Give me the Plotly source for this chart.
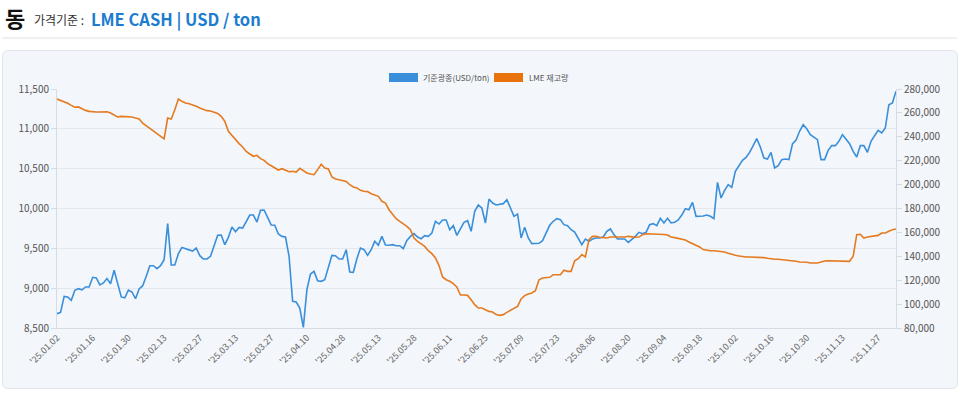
import pandas as pd
import plotly.graph_objects as go

# ---------------- data ----------------
start_date = "2025-01-02"
end_date = "2025-12-04"
uk_holidays = ["2025-04-18", "2025-04-21", "2025-05-05", "2025-05-26", "2025-08-25"]

copper_price = [
    8680, 8697, 8897, 8890, 8847, 8973, 8994, 8980, 9015, 9015,
    9136, 9128, 9040, 9065, 9120, 9056, 9224, 9065, 8890, 8880,
    8977, 8952, 8868, 8990, 9031, 9150, 9282, 9282, 9245, 9282,
    9358, 9810, 9290, 9290, 9433, 9512, 9496, 9490, 9466, 9504,
    9408, 9366, 9366, 9400, 9546, 9663, 9667, 9546, 9638, 9768,
    9709, 9763, 9755, 9830, 9918, 9918, 9830, 9977, 9981, 9889,
    9793, 9789, 9680, 9650, 9642, 9400, 8835, 8826, 8750, 8508,
    8981, 9178, 9211, 9094, 9086, 9107, 9274, 9412, 9408, 9366,
    9366, 9483, 9203, 9199, 9370, 9504, 9483, 9412, 9483, 9588,
    9538, 9650, 9542, 9538, 9546, 9533, 9533, 9496, 9600, 9650,
    9684, 9642, 9621, 9659, 9650, 9692, 9839, 9805, 9856, 9856,
    9734, 9785, 9663, 9755, 9826, 9847, 9713, 9964, 10044, 10006,
    9818, 10119, 10069, 10044, 10052, 10061, 10111, 9994, 9902, 9931,
    9630, 9764, 9630, 9559, 9559, 9563, 9596, 9701, 9789, 9839,
    9872, 9860, 9797, 9784, 9734, 9705, 9630, 9546, 9617, 9588,
    9617, 9630, 9630, 9642, 9713, 9743, 9672, 9617, 9617, 9617,
    9575, 9609, 9650, 9701, 9684, 9701, 9797, 9810, 9785, 9877,
    9818, 9877, 9818, 9826, 9856, 9918, 9998, 9985, 10077, 9902,
    9902, 9906, 9918, 9902, 9872, 10328, 10132, 10228, 10299, 10266,
    10467, 10538, 10605, 10642, 10705, 10789, 10877, 10772, 10634, 10621,
    10705, 10508, 10538, 10613, 10621, 10613, 10810, 10860, 10969, 11052,
    11000, 10927, 10893, 10864, 10613, 10613, 10730, 10789, 10789, 10843,
    10927, 10872, 10814, 10718, 10646, 10789, 10789, 10705, 10843, 10914,
    10981, 10948, 11010, 11303, 11324, 11471,
]

lme_stock = [
    271600, 270500, 269400, 268000, 266300, 264700, 265000, 263500, 262100, 261300,
    260700, 260700, 260700, 260700, 261000, 259900, 258200, 256600, 257100, 256900,
    256900, 256600, 255700, 254900, 251500, 249300, 247400, 245400, 242600, 241000,
    238200, 255700, 254900, 262700, 271600, 269700, 268300, 267700, 266900, 265500,
    264100, 262700, 261900, 261600, 260800, 259600, 257100, 252900, 244600, 241000,
    237600, 234300, 231500, 227800, 225600, 223700, 224500, 221700, 220300, 217500,
    215800, 213900, 212200, 213300, 211900, 210800, 211100, 210500, 213600, 211900,
    209700, 208900, 208300, 212500, 217000, 213900, 213100, 206400, 204700, 204100,
    203600, 202700, 199900, 198000, 197200, 195200, 194400, 194100, 192400, 191000,
    190200, 186000, 184600, 179000, 174800, 171500, 169300, 167300, 165100, 162300,
    155300, 152500, 150300, 148300, 144700, 142200, 138600, 132200, 122700, 120400,
    119100, 117100, 114300, 107600, 107600, 107300, 103700, 99500, 96700, 96700,
    95300, 93900, 93400, 91200, 90600, 91200, 93100, 94800, 95900, 98100,
    104300, 107100, 108500, 109300, 111200, 120400, 121800, 121800, 122400, 124600,
    124600, 124600, 128300, 127400, 127400, 136300, 138000, 141400, 139400, 153900,
    156700, 156700, 155900, 155900, 155300, 156100, 156100, 155900, 155900, 156100,
    156700, 156100, 155900, 156100, 158100, 158900, 158900, 158900, 158900, 158600,
    158300, 157800, 156100, 155600, 155000, 154500, 153600, 152000, 150600, 149500,
    147800, 145600, 145000, 144700, 144700, 144400, 144200, 143600, 142500, 141400,
    140800, 140300, 139700, 139400, 139400, 139400, 139400, 139100, 138900, 138300,
    137700, 137500, 137500, 137200, 137200, 136900, 136300, 135800, 135200, 135400,
    135000, 134400, 134100, 134400, 135200, 136100, 136300, 136300, 136300, 136300,
    136100, 136100, 135800, 140000, 158100, 158400, 155300, 156100, 156700, 156700,
    157500, 159500, 159500, 160900, 162300, 162800,
]

left_ticks = [8500, 9000, 9500, 10000, 10500, 11000, 11500]
right_ticks = [80000, 100000, 120000, 140000, 160000, 180000, 200000, 220000, 240000, 260000, 280000]
tick_step = 10

series_names = ["기준광종(USD/ton)", "LME 재고량"]

# ---------------- derived categories ----------------
days = pd.bdate_range(start_date, end_date)
days = [d for d in days if d.strftime("%Y-%m-%d") not in uk_holidays]
n = min(len(days), len(copper_price), len(lme_stock))
days = days[:n]
dates = [d.strftime("%Y-%m-%d") for d in days]
tick_vals = dates[::tick_step]
tick_text = ["'" + d.strftime("%y.%m.%d") for d in days[::tick_step]]

# ---------------- style ----------------
W, H = 960, 394
PL, PR, PT, PB = 57, 896, 89, 328
FONT = "Noto Sans CJK KR, Noto Sans, sans-serif"
BLUE = "#3a8fdb"
ORANGE = "#e57a1f"
ORANGE_BOX = "#e8720c"


def px_x(px):
    return (px - PL) / (PR - PL)


def px_y(py):
    return (PB - py) / (PB - PT)


fig = go.Figure()
fig.add_trace(go.Scatter(x=dates, y=copper_price[:n], name=series_names[0], mode="lines",
                         line=dict(color=BLUE, width=1.6), yaxis="y", showlegend=False))
fig.add_trace(go.Scatter(x=dates, y=lme_stock[:n], name=series_names[1], mode="lines",
                         line=dict(color=ORANGE, width=1.6), yaxis="y2", showlegend=False))

# card background (rounded)
x0, x1, y0, y1, r = px_x(2.5), px_x(957.5), px_y(50.5), px_y(388.5), 6
rx = r / (PR - PL)
ry = r / (PB - PT)
card_path = (f"M{x0+rx},{y0} L{x1-rx},{y0} Q{x1},{y0} {x1},{y0-ry} "
             f"L{x1},{y1+ry} Q{x1},{y1} {x1-rx},{y1} L{x0+rx},{y1} Q{x0},{y1} {x0},{y1+ry} "
             f"L{x0},{y0-ry} Q{x0},{y0} {x0+rx},{y0} Z")
shapes = [
    dict(type="path", path=card_path, xref="paper", yref="paper", layer="below",
         fillcolor="#f3f6fa", line=dict(color="#e0e5eb", width=1)),
    dict(type="line", xref="paper", yref="paper", x0=px_x(2), x1=px_x(957), y0=px_y(38), y1=px_y(38),
         line=dict(color="#e2e2e2", width=1)),
    dict(type="rect", xref="paper", yref="paper", x0=px_x(389), x1=px_x(418), y0=px_y(73), y1=px_y(82),
         fillcolor=BLUE, line=dict(width=0)),
    dict(type="rect", xref="paper", yref="paper", x0=px_x(494), x1=px_x(523), y0=px_y(73), y1=px_y(82),
         fillcolor=ORANGE_BOX, line=dict(width=0)),
]

annotations = [
    dict(text="<b>동</b>", x=px_x(3), y=px_y(17), xref="paper", yref="paper", xanchor="left",
         yanchor="middle", showarrow=False, font=dict(family=FONT, size=22, color="#111")),
    dict(text="가격기준 :", x=px_x(32), y=px_y(19), xref="paper", yref="paper", xanchor="left",
         yanchor="middle", showarrow=False, font=dict(family=FONT, size=12, color="#333")),
    dict(text="<b>LME CASH | USD / ton</b>", x=px_x(89), y=px_y(19), xref="paper", yref="paper",
         xanchor="left", yanchor="middle", showarrow=False,
         font=dict(family=FONT, size=16.5, color="#1c7cd0")),
    dict(text=series_names[0], x=px_x(421), y=px_y(77.5), xref="paper", yref="paper", xanchor="left",
         yanchor="middle", showarrow=False, font=dict(family=FONT, size=8, color="#555")),
    dict(text=series_names[1], x=px_x(527), y=px_y(77.5), xref="paper", yref="paper", xanchor="left",
         yanchor="middle", showarrow=False, font=dict(family=FONT, size=8, color="#555")),
]

fig.update_layout(
    width=W, height=H,
    margin=dict(l=PL, r=W - PR, t=PT, b=H - PB),
    paper_bgcolor="white",
    plot_bgcolor="rgba(0,0,0,0)",
    font=dict(family=FONT, size=10, color="#555"),
    shapes=shapes,
    annotations=annotations,
    xaxis=dict(type="category", range=[0, n - 1], tickmode="array", tickvals=tick_vals,
               ticktext=tick_text, tickangle=-45, tickfont=dict(size=9, color="#666"),
               showgrid=False, showline=True, linecolor="#d6dce3", linewidth=1, ticks="",
               zeroline=False),
    yaxis=dict(range=[8500, 11500], tickvals=left_ticks, tickformat=",", showgrid=True,
               gridcolor="#e3e8ee", gridwidth=1, showline=True, linecolor="#d6dce3",
               ticks="outside", ticklen=5, tickcolor="#d6dce3", zeroline=False,
               tickfont=dict(size=10, color="#555")),
    yaxis2=dict(range=[80000, 280000], tickvals=right_ticks, tickformat=",", overlaying="y",
                side="right", showgrid=False, showline=True, linecolor="#d6dce3",
                ticks="outside", ticklen=5, tickcolor="#d6dce3", zeroline=False,
                tickfont=dict(size=10, color="#555")),
    hovermode="x unified",
)

fig.write_html("out.html", config={"displayModeBar": False},
               post_script="document.body.style.margin='0';document.body.style.overflow='hidden';")
